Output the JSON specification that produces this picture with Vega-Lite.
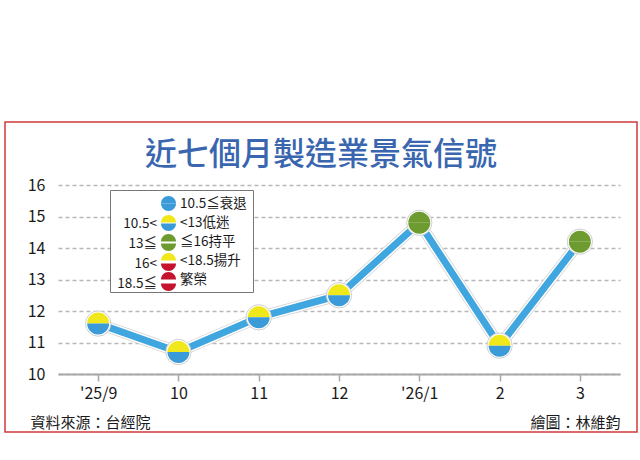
{
  "$schema": "https://vega.github.io/schema/vega-lite/v6.json",
  "autosize": "none",
  "width": 632,
  "height": 310,
  "padding": {"left": 5, "top": 122, "right": 3, "bottom": 28},
  "background": "white",
  "config": {
    "font": "Noto Sans CJK TC",
    "view": {"stroke": "#cf3a3a", "strokeWidth": 1.5, "fill": "white"}
  },
  "title": {
    "text": "近七個月製造業景氣信號",
    "fontSize": 32,
    "fontWeight": 500,
    "color": "#3a66b0",
    "anchor": "middle",
    "offset": -50
  },
  "data": {
    "values": [
      {"month": "'25/9", "score": 11.6, "signal": "低迷"},
      {"month": "10", "score": 10.7, "signal": "低迷"},
      {"month": "11", "score": 11.8, "signal": "低迷"},
      {"month": "12", "score": 12.5, "signal": "低迷"},
      {"month": "'26/1", "score": 14.8, "signal": "持平"},
      {"month": "2", "score": 10.9, "signal": "低迷"},
      {"month": "3", "score": 14.2, "signal": "持平"}
    ]
  },
  "encoding": {
    "x": {
      "field": "month",
      "type": "ordinal",
      "sort": null,
      "scale": {"type": "point", "range": [53, 615], "padding": 0.5},
      "axis": {
        "orient": "bottom",
        "offset": -58,
        "labelAngle": 0,
        "labelFontSize": 16,
        "labelColor": "#1a1a1a",
        "labelPadding": 4,
        "domainColor": "#a8a8a8",
        "domainWidth": 2,
        "tickColor": "#a8a8a8",
        "tickWidth": 1.5,
        "tickSize": 7,
        "grid": false,
        "title": "資料來源：台經院",
        "titleFontSize": 15,
        "titleFontWeight": "normal",
        "titleColor": "#1a1a1a",
        "titleAlign": "left",
        "titleBaseline": "alphabetic",
        "titleX": 25,
        "titleY": 53
      }
    },
    "y": {
      "field": "score",
      "type": "quantitative",
      "scale": {"domain": [10, 16], "range": [252, 63], "nice": false, "zero": false},
      "axis": {
        "offset": -53,
        "values": [10, 11, 12, 13, 14, 15, 16],
        "domain": false,
        "ticks": false,
        "labelFontSize": 16,
        "labelColor": "#1a1a1a",
        "labelPadding": 13,
        "grid": true,
        "gridColor": "#b8b8b8",
        "gridDash": [4, 3],
        "gridWidth": 1.5,
        "title": "繪圖：林維鈞",
        "titleAngle": 0,
        "titleFontSize": 15,
        "titleFontWeight": "normal",
        "titleColor": "#1a1a1a",
        "titleAlign": "right",
        "titleBaseline": "alphabetic",
        "titleX": 562,
        "titleY": 305
      }
    }
  },
  "layer": [
    {"mark": {"type": "line", "color": "#d2d2d2", "strokeWidth": 11.5}},
    {"mark": {"type": "line", "color": "white", "strokeWidth": 10}},
    {"mark": {"type": "line", "color": "#3fa6df", "strokeWidth": 7}},
    {
      "mark": {"type": "point", "shape": "circle", "filled": true, "color": "white", "size": 640, "opacity": 1, "stroke": "#cfcfcf", "strokeWidth": 1}
    },
    {
      "mark": {"type": "point", "shape": "M-1,0A1,1,0,0,1,1,0Z", "filled": true, "size": 484, "opacity": 1},
      "encoding": {
        "color": {
          "field": "signal",
          "type": "nominal",
          "scale": {
            "domain": ["衰退", "低迷", "持平", "揚升", "繁榮"],
            "range": ["#3b9bd8", "#f1e81c", "#6e9b30", "#f1e81c", "#c4122f"]
          },
          "legend": {
            "orient": "none",
            "legendX": 105,
            "legendY": 68,
            "title": null,
            "symbolType": "M-1,0A1,1,0,0,1,1,0Z",
            "symbolSize": 225,
            "symbolStrokeWidth": 0,
            "symbolOpacity": 1,
            "symbolOffset": 45,
            "labelOffset": 4,
            "labelFontSize": 13.5,
            "labelColor": "#1a1a1a",
            "labelLimit": 200,
            "rowPadding": 5,
            "padding": 6,
            "fillColor": "white",
            "strokeColor": "#777777",
            "labelExpr": "{'衰退': '10.5≦衰退', '低迷': '<13低迷', '持平': '≦16持平', '揚升': '<18.5揚升', '繁榮': '繁榮'}[datum.label]"
          }
        }
      }
    },
    {
      "mark": {"type": "point", "shape": "M-1,0A1,1,0,0,0,1,0Z", "filled": true, "size": 484, "opacity": 1},
      "encoding": {
        "color": {
          "field": "signal",
          "type": "nominal",
          "scale": {
            "domain": ["衰退", "低迷", "持平", "揚升", "繁榮"],
            "range": ["#3b9bd8", "#3b9bd8", "#6e9b30", "#c4122f", "#c4122f"]
          },
          "legend": {
            "orient": "none",
            "legendX": 105,
            "legendY": 68,
            "title": null,
            "symbolType": "M-1,0A1,1,0,0,0,1,0Z",
            "symbolSize": 225,
            "symbolStrokeWidth": 0,
            "symbolOpacity": 1,
            "symbolOffset": 45,
            "labelOffset": -19,
            "labelAlign": "right",
            "labelFontSize": 13.5,
            "labelColor": "#1a1a1a",
            "labelLimit": 200,
            "rowPadding": 5,
            "padding": 6,
            "labelExpr": "{'衰退': '', '低迷': '10.5<', '持平': '13≦', '揚升': '16<', '繁榮': '18.5≦'}[datum.label]"
          }
        }
      }
    }
  ],
  "resolve": {"scale": {"color": "independent"}, "legend": {"color": "independent"}}
}
